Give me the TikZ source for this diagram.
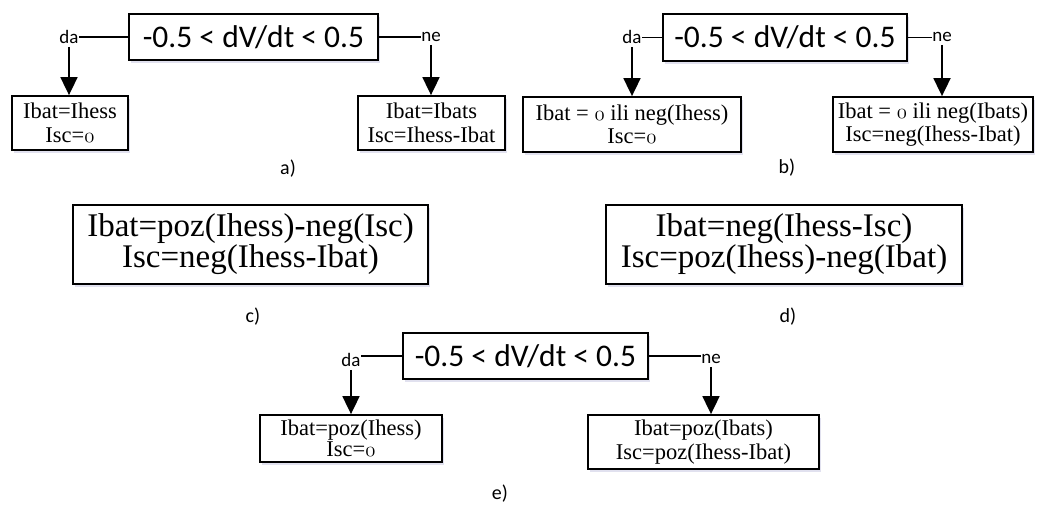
\documentclass[tikz,border=0pt]{standalone}
\usepackage{fontspec}
\newfontfamily\calib{Carlito}
\newfontfamily\tnr{Liberation Serif}
\usetikzlibrary{arrows.meta,shadows}
\newcommand{\oz}{{\usefont{OML}{cmm}{m}{it}0}}
\tikzset{
  box/.style={draw=black, line width=1.8pt, fill=white, inner sep=0pt, align=center,
    drop shadow={shadow xshift=2pt, shadow yshift=-3pt, fill=blue!30!gray, opacity=0.18}},
  condbox/.style={box, font={\calib\fontsize{31.5}{34}\selectfont}},
  resbox/.style={box, font={\tnr\fontsize{22.5}{23.5}\selectfont}},
  bigbox/.style={box, font={\tnr\fontsize{33}{29}\selectfont}},
  lbl/.style={inner sep=0pt, font={\calib\fontsize{19}{21}\selectfont}},
  panellbl/.style={inner sep=0pt, font={\calib\fontsize{20}{22}\selectfont}},
  conn/.style={line width=1.8pt},
  arr/.style={line width=1.8pt, -{Triangle[width=17pt,length=18pt]}}
}
\begin{document}
\begin{tikzpicture}[x=1pt,y=-1pt]
\useasboundingbox (0,0) rectangle (1044,504);
% ---------- a)
\node[condbox, minimum width=249pt, minimum height=46pt] (Da) at (253.5,37) {-0.5 < dV/dt < 0.5};
\node[lbl] (daA) at (69,37) {da};
\node[lbl] (neA) at (431,37) {ne};
\node[resbox, minimum width=116pt, minimum height=54pt] (La) at (70,123) {Ibat=Ihess\\Isc=\oz};
\node[resbox, minimum width=147pt, minimum height=54pt] (Ra) at (431.5,123) {Ibat=Ibats\\Isc=Ihess-Ibat};
\draw[conn] (Da.west) -- (Da.west -| daA.east);
\draw[conn] (Da.east) -- (Da.east -| neA.west);
\draw[arr] ([yshift=-3pt]daA.south) -- (daA.south |- La.north);
\draw[arr] ([yshift=-3pt]neA.south) -- (neA.south |- Ra.north);
\node[panellbl] (capA) at (288,169) {a)};
% ---------- b)
\node[condbox, minimum width=244pt, minimum height=47pt] (Db) at (785,37.5) {-0.5 < dV/dt < 0.5};
\node[lbl] (daB) at (632,37) {da};
\node[lbl] (neB) at (942,37) {ne};
\node[resbox, minimum width=218pt, minimum height=55pt] (Lb) at (632,124.5) {Ibat = \oz{} ili neg(Ihess)\\Isc=\oz};
\node[resbox, minimum width=200pt, minimum height=55pt] (Rb) at (933,124.5) {Ibat = \oz{} ili neg(Ibats)\\Isc=neg(Ihess-Ibat)};
\draw[conn] (Db.west) -- (Db.west -| daB.east);
\draw[conn] (Db.east) -- (Db.east -| neB.west);
\draw[arr] ([yshift=-3pt]daB.south) -- (daB.south |- Lb.north);
\draw[arr] ([yshift=-3pt]neB.south) -- (neB.south |- Rb.north);
\node[panellbl] (capB) at (787,168) {b)};
% ---------- c)
\node[bigbox, minimum width=355pt, minimum height=79pt] (Bc) at (250.5,244.5) {Ibat=poz(Ihess)-neg(Isc)\\Isc=neg(Ihess-Ibat)};
\node[panellbl] (capC) at (253,317) {c)};
% ---------- d)
\node[bigbox, minimum width=356pt, minimum height=79pt] (Bd) at (784,244.5) {Ibat=neg(Ihess-Isc)\\Isc=poz(Ihess)-neg(Ibat)};
\node[panellbl] (capD) at (788,317) {d)};
% ---------- e)
\node[condbox, minimum width=245pt, minimum height=46pt] (De) at (525.5,356) {-0.5 < dV/dt < 0.5};
\node[lbl] (daE) at (351,360) {da};
\node[lbl] (neE) at (711,359) {ne};
\node[resbox, minimum width=182pt, minimum height=47pt, font={\tnr\fontsize{22.5}{20.5}\selectfont}] (Le) at (351,438.5) {Ibat=poz(Ihess)\\Isc=\oz};
\node[resbox, minimum width=231pt, minimum height=54pt] (Re) at (703.5,442) {Ibat=poz(Ibats)\\Isc=poz(Ihess-Ibat)};
\draw[conn] (De.west) -- (De.west -| daE.east);
\draw[conn] (De.east) -- (De.east -| neE.west);
\draw[arr] ([yshift=-3pt]daE.south) -- (daE.south |- Le.north);
\draw[arr] ([yshift=-3pt]neE.south) -- (neE.south |- Re.north);
\node[panellbl] (capE) at (500,494) {e)};
\end{tikzpicture}
\end{document}
